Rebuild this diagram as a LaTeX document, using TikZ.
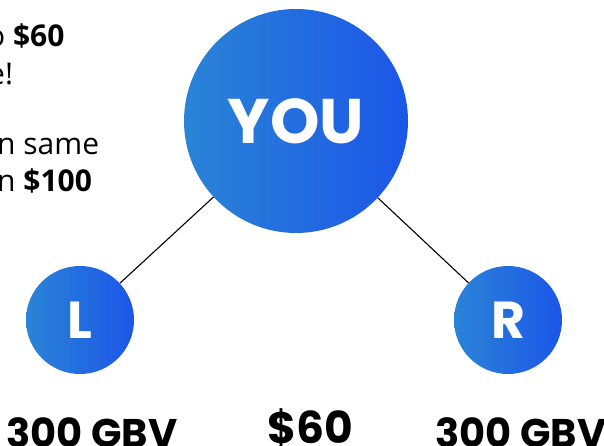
\documentclass[tikz,border=0pt]{standalone}
\usepackage{fontspec}
\setmainfont{Open Sans}
\newfontfamily\geofont{Poppins}
\definecolor{blueL}{RGB}{42,132,214}
\definecolor{blueR}{RGB}{28,86,232}
\tikzset{
  bubble/.style={circle, inner sep=0pt, left color=blueL, right color=blueR,
    text=white, font=\geofont\bfseries},
  cost/.style={font=\geofont\bfseries\fontsize{40}{40}\selectfont, anchor=base},
  note/.style={font=\fontsize{30}{34}\selectfont, anchor=base west, inner sep=0pt}
}
\begin{document}
\begin{tikzpicture}[x=1pt, y=-1pt]
\useasboundingbox (0,0) rectangle (604,446);

% circles
\node[bubble, minimum size=224pt] (you) at (296,121) {\fontsize{63}{63}\selectfont YOU};
\node[bubble, minimum size=108pt] (lft) at (80,320) {\fontsize{52}{52}\selectfont L};
\node[bubble, minimum size=108pt] (rgt) at (508,320) {\fontsize{52}{52}\selectfont R};

\draw[line width=1.1pt] (you) -- (lft);
\draw[line width=1.1pt] (you) -- (rgt);

% labels below
\node[cost] (costL) at (92,447) {300 GBV};
\node[cost] (costR) at (521,447) {300 GBV};
\node[cost, font=\geofont\bfseries\fontsize{44}{44}\selectfont] (price) at (310,443) {\$60};

% text on the left
\node[note] (noteA) at (-13,47) {o \textbf{\$60}};
\node[note] (noteB) at (-12,85) {e!};
\node[note] (noteC) at (-3,155) {n same};
\node[note] (noteD) at (-3,192) {n \textbf{\$100}};
\end{tikzpicture}
\end{document}
